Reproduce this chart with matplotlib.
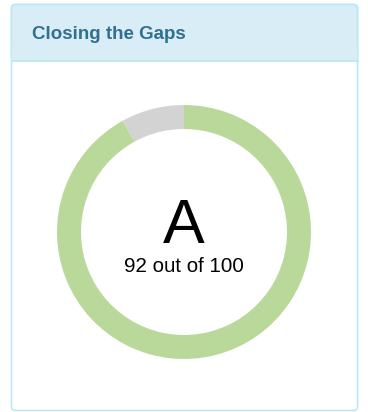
import matplotlib
matplotlib.use("Agg")
import matplotlib.pyplot as plt
from matplotlib.patches import FancyBboxPatch, Rectangle

plt.rcParams['font.family'] = ['Liberation Sans', 'DejaVu Sans']

# Score data
title = "Closing the Gaps"
grade = "A"
score = 92
max_score = 100
slice_values = [score, max_score - score]
slice_colors = ["#b9d99b", "#d3d3d3"]

W, H = 368, 412
fig = plt.figure(figsize=(W / 100, H / 100), dpi=100)
fig.patch.set_facecolor("white")

# Panel canvas in pixel units (y grows downward)
bg = fig.add_axes([0, 0, 1, 1])
bg.set_xlim(0, W)
bg.set_ylim(H, 0)
bg.axis("off")

border = "#bce8f1"
left, right, top, bottom = 11.5, 357.5, 4.5, 410.5
panel = FancyBboxPatch((left, top), right - left, bottom - top,
                       boxstyle="round,pad=0,rounding_size=4",
                       facecolor="white", edgecolor=border, linewidth=1.2)
bg.add_patch(panel)
header = FancyBboxPatch((left, top), right - left, 56,
                        boxstyle="round,pad=0,rounding_size=4",
                        facecolor="#d9edf7", edgecolor=border, linewidth=1.2)
bg.add_patch(header)
# square off the header's lower corners
bg.add_patch(Rectangle((left + 0.6, top + 40), right - left - 1.2, 15.4,
                       facecolor="#d9edf7", edgecolor="none"))
bg.plot([left, right], [top + 56, top + 56], color=border, lw=1.2)

bg.text(32, 39, title, fontsize=13.5, fontweight="bold", color="#31708f",
        ha="left", va="baseline")

# Donut gauge
cx, cy, r = 184, 232, 127
ax = fig.add_axes([(cx - r) / W, (H - cy - r) / H, 2 * r / W, 2 * r / H])
ax.pie(slice_values, colors=slice_colors, startangle=90, counterclock=False,
       radius=1, wedgeprops=dict(width=24 / r, linewidth=0))
ax.set_xlim(-1, 1)
ax.set_ylim(-1, 1)
ax.set_aspect("equal")
ax.axis("off")

bg.text(cx, 243, grade, fontsize=45, color="black", ha="center", va="baseline")
bg.text(cx, 272, f"{score} out of {max_score}", fontsize=14.8, color="black",
        ha="center", va="baseline")

fig.savefig("out.png", dpi=100)
